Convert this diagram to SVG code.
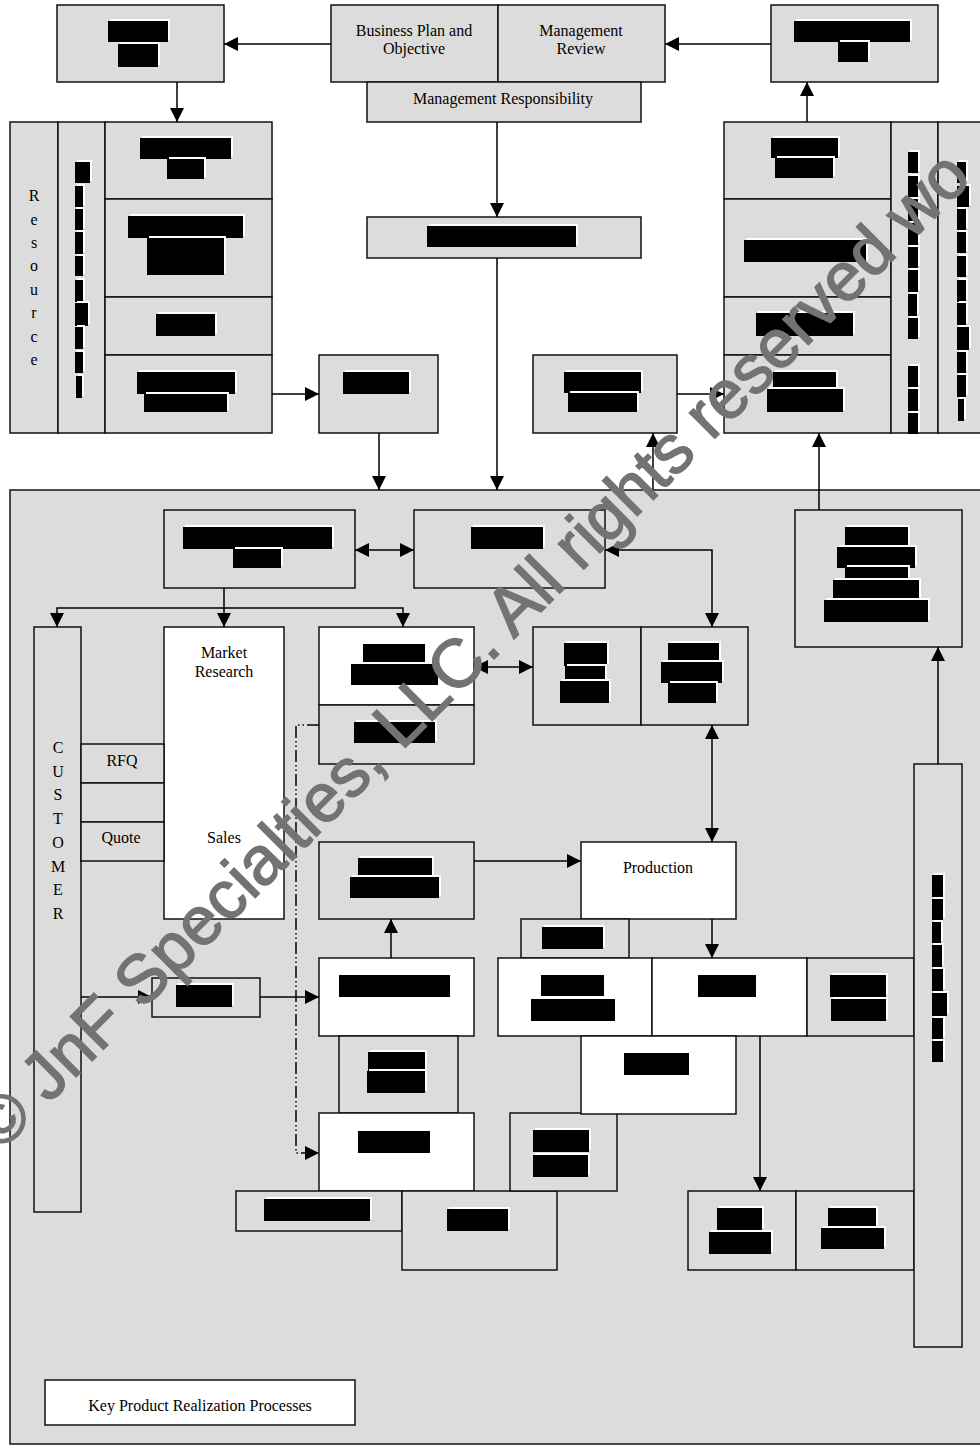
<svg xmlns="http://www.w3.org/2000/svg" width="980" height="1445" viewBox="0 0 980 1445">
<defs>
<style>
.g{fill:#dcdcdc;stroke:#111;stroke-width:1.5}
.w{fill:#fff;stroke:#111;stroke-width:1.5}
.t{font-family:"Liberation Serif","Times New Roman",serif;font-size:16px;fill:#000;text-anchor:middle}
.c{stroke:#000;stroke-width:1.5;fill:none}
.red rect{fill:#000;filter:url(#halo)}
.ar{marker-end:url(#arr)}
.ab{marker-start:url(#arr);marker-end:url(#arr)}
</style>
<filter id="halo" filterUnits="userSpaceOnUse" x="0" y="0" width="1000" height="1445">
<feOffset in="SourceAlpha" dx="2" dy="-2" result="o"/>
<feFlood flood-color="#fff"/>
<feComposite in2="o" operator="in" result="h"/>
<feMerge><feMergeNode in="h"/><feMergeNode in="SourceGraphic"/></feMerge>
</filter>
<marker id="arr" viewBox="0 0 14 14" refX="14" refY="7" markerWidth="14" markerHeight="14" markerUnits="userSpaceOnUse" orient="auto-start-reverse">
<path d="M0,0 L14,7 L0,14 z" fill="#000"/>
</marker>
</defs>
<rect width="980" height="1445" fill="#fff"/>

<!-- big region -->
<g id="region">
<rect class="g" x="10" y="490" width="990" height="954"/>
</g>

<!-- top row -->
<g id="n-topleft">
<rect class="g" x="57" y="5" width="167" height="77"/>
<g class="red"><rect x="108" y="21" width="60" height="21"/><rect x="118" y="44" width="40" height="23"/></g>
</g>
<g id="n-bizplan">
<rect class="g" x="331" y="5" width="167" height="77"/>
<text class="t" x="414" y="36">Business Plan and</text>
<text class="t" x="414" y="54">Objective</text>
</g>
<g id="n-mgmtreview">
<rect class="g" x="498" y="5" width="167" height="77"/>
<text class="t" x="581" y="36">Management</text>
<text class="t" x="581" y="54">Review</text>
</g>
<g id="n-mgmtresp">
<rect class="g" x="367" y="82" width="274" height="40"/>
<text class="t" x="503" y="104">Management Responsibility</text>
</g>
<g id="n-topright">
<rect class="g" x="771" y="5" width="167" height="77"/>
<g class="red"><rect x="794" y="21" width="116" height="21"/><rect x="838" y="42" width="30" height="20"/></g>
</g>

<!-- left resource block -->
<g id="n-resource">
<rect class="g" x="10" y="122" width="48" height="311"/>
<rect class="g" x="58" y="122" width="47" height="311"/>
<rect class="g" x="105" y="122" width="167" height="77"/>
<rect class="g" x="105" y="199" width="167" height="98"/>
<rect class="g" x="105" y="297" width="167" height="58"/>
<rect class="g" x="105" y="355" width="167" height="78"/>
<text class="t" x="34" y="201">R</text>
<text class="t" x="34" y="224.5">e</text>
<text class="t" x="34" y="248">s</text>
<text class="t" x="34" y="271.4">o</text>
<text class="t" x="34" y="294.8">u</text>
<text class="t" x="34" y="318.3">r</text>
<text class="t" x="34" y="341.7">c</text>
<text class="t" x="34" y="365.2">e</text>
<g class="red">
<rect x="75" y="162" width="15" height="21"/><rect x="75" y="186" width="8" height="21"/><rect x="75" y="209" width="8" height="21"/><rect x="75" y="232" width="8" height="22"/><rect x="75" y="256" width="8" height="20"/><rect x="75" y="280" width="8" height="22"/><rect x="75" y="303" width="13" height="23"/><rect x="75" y="327" width="8" height="22"/><rect x="75" y="352" width="8" height="21"/><rect x="76" y="376" width="6" height="22"/>
<rect x="140" y="138" width="91" height="21"/><rect x="167" y="159" width="37" height="20"/>
<rect x="128" y="216" width="115" height="22"/><rect x="147" y="238" width="77" height="37"/>
<rect x="156" y="314" width="59" height="22"/>
<rect x="137" y="372" width="98" height="22"/><rect x="144" y="394" width="83" height="18"/>
</g>
</g>
<g id="n-b">
<rect class="g" x="319" y="355" width="119" height="78"/>
<g class="red"><rect x="343" y="372" width="66" height="22"/></g>
</g>
<g id="n-c">
<rect class="g" x="367" y="217" width="274" height="41"/>
<g class="red"><rect x="427" y="226" width="149" height="21"/></g>
</g>
<g id="n-d">
<rect class="g" x="533" y="355" width="144" height="78"/>
<g class="red"><rect x="564" y="372" width="77" height="21"/><rect x="568" y="393" width="69" height="19"/></g>
</g>

<!-- right big block -->
<g id="n-rightblock">
<rect class="g" x="724" y="122" width="167" height="77"/>
<rect class="g" x="724" y="199" width="167" height="98"/>
<rect class="g" x="724" y="297" width="167" height="58"/>
<rect class="g" x="724" y="355" width="167" height="78"/>
<rect class="g" x="891" y="122" width="47" height="311"/>
<rect class="g" x="938" y="122" width="60" height="311"/>
<g class="red">
<rect x="771" y="138" width="67" height="20"/><rect x="775" y="158" width="58" height="20"/>
<rect x="744" y="240" width="122" height="22"/>
<rect x="756" y="313" width="97" height="23"/>
<rect x="773" y="372" width="63" height="17"/><rect x="767" y="389" width="76" height="23"/>
<rect x="908" y="152" width="10" height="21"/><rect x="908" y="176" width="10" height="21"/><rect x="908" y="199" width="10" height="22"/><rect x="908" y="223" width="10" height="22"/><rect x="908" y="247" width="10" height="21"/><rect x="908" y="270" width="10" height="22"/><rect x="908" y="294" width="9" height="22"/><rect x="908" y="318" width="10" height="21"/><rect x="908" y="366" width="10" height="21"/><rect x="908" y="389" width="10" height="22"/><rect x="908" y="413" width="10" height="21"/>
<rect x="957" y="162" width="9" height="21"/><rect x="957" y="186" width="12" height="21"/><rect x="957" y="209" width="9" height="21"/><rect x="957" y="232" width="9" height="21"/><rect x="957" y="256" width="9" height="21"/><rect x="957" y="280" width="9" height="22"/><rect x="957" y="303" width="9" height="22"/><rect x="957" y="327" width="12" height="23"/><rect x="957" y="352" width="9" height="21"/><rect x="957" y="375" width="9" height="22"/><rect x="958" y="399" width="6" height="22"/>
</g>
</g>

<!-- inside region -->
<g id="n-f">
<rect class="g" x="164" y="510" width="191" height="78"/>
<g class="red"><rect x="183" y="527" width="149" height="22"/><rect x="233" y="549" width="48" height="19"/></g>
</g>
<g id="n-g">
<rect class="g" x="414" y="510" width="191" height="78"/>
<g class="red"><rect x="471" y="527" width="72" height="22"/></g>
</g>
<g id="n-e">
<rect class="g" x="795" y="510" width="167" height="137"/>
<g class="red"><rect x="845" y="527" width="63" height="21"/><rect x="837" y="547" width="78" height="21"/><rect x="845" y="567" width="63" height="13"/><rect x="833" y="580" width="86" height="20"/><rect x="824" y="600" width="104" height="22"/></g>
</g>
<g id="n-h">
<rect class="g" x="533" y="627" width="108" height="98"/>
<rect class="g" x="641" y="627" width="107" height="98"/>
<g class="red"><rect x="564" y="643" width="43" height="23"/><rect x="565" y="666" width="40" height="15"/><rect x="560" y="681" width="49" height="22"/>
<rect x="668" y="643" width="51" height="19"/><rect x="661" y="662" width="61" height="21"/><rect x="668" y="683" width="48" height="20"/></g>
</g>
<g id="n-i">
<rect class="w" x="319" y="627" width="155" height="78"/>
<rect class="g" x="319" y="705" width="155" height="59"/>
<g class="red"><rect x="363" y="644" width="62" height="20"/><rect x="351" y="664" width="87" height="21"/><rect x="354" y="722" width="81" height="21"/></g>
</g>
<g id="n-customer">
<rect class="g" x="34" y="627" width="47" height="585"/>
<text class="t" x="58" y="753">C</text>
<text class="t" x="58" y="776.7">U</text>
<text class="t" x="58" y="800.4">S</text>
<text class="t" x="58" y="824">T</text>
<text class="t" x="58" y="847.8">O</text>
<text class="t" x="58" y="871.5">M</text>
<text class="t" x="58" y="895.2">E</text>
<text class="t" x="58" y="919">R</text>
</g>
<g id="n-sales">
<rect class="w" x="164" y="627" width="120" height="292"/>
<text class="t" x="224" y="658">Market</text>
<text class="t" x="224" y="677">Research</text>
<text class="t" x="224" y="843">Sales</text>
</g>
<g id="n-rfq">
<rect class="g" x="81" y="744" width="83" height="39"/>
<text class="t" x="122" y="766">RFQ</text>
</g>
<g id="n-blank">
<rect class="g" x="81" y="783" width="83" height="39"/>
</g>
<g id="n-quote">
<rect class="g" x="81" y="822" width="83" height="39"/>
<text class="t" x="121" y="843">Quote</text>
</g>
<g id="n-j">
<rect class="g" x="319" y="842" width="155" height="77"/>
<g class="red"><rect x="358" y="858" width="74" height="19"/><rect x="350" y="877" width="89" height="21"/></g>
</g>
<g id="n-production">
<rect class="w" x="581" y="842" width="155" height="77"/>
<text class="t" x="658" y="873">Production</text>
</g>
<g id="n-l">
<rect class="w" x="319" y="958" width="155" height="78"/>
<g class="red"><rect x="339" y="975" width="111" height="22"/></g>
</g>
<g id="n-m">
<rect class="g" x="152" y="978" width="108" height="39"/>
<g class="red"><rect x="176" y="985" width="56" height="22"/></g>
</g>
<g id="n-belowl">
<rect class="g" x="339" y="1036" width="119" height="77"/>
<g class="red"><rect x="368" y="1052" width="57" height="19"/><rect x="367" y="1071" width="58" height="22"/></g>
</g>
<g id="n-n">
<rect class="w" x="319" y="1113" width="155" height="78"/>
<g class="red"><rect x="358" y="1131" width="72" height="22"/></g>
</g>
<g id="n-o">
<rect class="g" x="236" y="1191" width="166" height="40"/>
<g class="red"><rect x="264" y="1199" width="106" height="22"/></g>
</g>
<g id="n-p">
<rect class="g" x="402" y="1191" width="155" height="79"/>
<g class="red"><rect x="447" y="1209" width="61" height="22"/></g>
</g>
<g id="n-q">
<rect class="g" x="510" y="1113" width="107" height="78"/>
<g class="red"><rect x="533" y="1130" width="56" height="22"/><rect x="533" y="1155" width="55" height="22"/></g>
</g>
<g id="n-aboveR1">
<rect class="g" x="521" y="919" width="108" height="39"/>
<g class="red"><rect x="542" y="927" width="61" height="22"/></g>
</g>
<g id="n-r1">
<rect class="w" x="498" y="958" width="154" height="78"/>
<g class="red"><rect x="541" y="975" width="63" height="21"/><rect x="531" y="999" width="84" height="22"/></g>
</g>
<g id="n-r2">
<rect class="w" x="652" y="958" width="155" height="78"/>
<g class="red"><rect x="698" y="975" width="58" height="22"/></g>
</g>
<g id="n-r3">
<rect class="g" x="807" y="958" width="107" height="78"/>
<g class="red"><rect x="830" y="975" width="56" height="22"/><rect x="831" y="999" width="55" height="22"/></g>
</g>
<g id="n-s">
<rect class="w" x="581" y="1036" width="155" height="78"/>
<g class="red"><rect x="624" y="1053" width="65" height="22"/></g>
</g>
<g id="n-t">
<rect class="g" x="688" y="1191" width="108" height="79"/>
<rect class="g" x="796" y="1191" width="118" height="79"/>
<g class="red"><rect x="717" y="1208" width="45" height="22"/><rect x="709" y="1232" width="62" height="22"/><rect x="828" y="1208" width="48" height="20"/><rect x="821" y="1228" width="63" height="21"/></g>
</g>
<g id="n-k">
<rect class="g" x="914" y="764" width="48" height="583"/>
<g class="red"><rect x="932" y="875" width="11" height="22"/><rect x="932" y="899" width="11" height="21"/><rect x="932" y="922" width="9" height="21"/><rect x="932" y="945" width="10" height="22"/><rect x="932" y="969" width="11" height="22"/><rect x="932" y="993" width="15" height="23"/><rect x="932" y="1018" width="11" height="21"/><rect x="932" y="1041" width="11" height="21"/></g>
</g>
<g id="n-key">
<rect class="w" x="45" y="1380" width="310" height="45"/>
<text class="t" x="200" y="1411">Key Product Realization Processes</text>
</g>

<!-- connectors -->
<g id="connectors">
<path class="c ar" d="M331,44 H224"/>
<path class="c ar" d="M771,44 H665"/>
<path class="c ar" d="M177,82 V122"/>
<path class="c ar" d="M807,122 V82"/>
<path class="c ar" d="M497,122 V217"/>
<path class="c ar" d="M497,258 V490"/>
<path class="c ar" d="M272,394 H319"/>
<path class="c ar" d="M379,433 V490"/>
<path class="c ar" d="M677,394 H724"/>
<path class="c ar" d="M653,490 V433"/>
<path class="c ar" d="M819,510 V433"/>
<path class="c ab" d="M355,550 H414"/>
<path class="c ab" d="M605,550 H712 V627"/>
<path class="c ar" d="M224,588 V627"/>
<path class="c ab" d="M57,627 V608 H403 V627"/>
<path class="c ab" d="M474,667 H533"/>
<path class="c ab" d="M712,725 V842"/>
<path class="c ar" d="M474,861 H581"/>
<path class="c ar" d="M712,919 V958"/>
<path class="c ar" d="M391,958 V919"/>
<path class="c ar" d="M81,997 H152"/>
<path class="c ar" d="M260,997 H319"/>
<path class="c ar" d="M319,725 H296 V1153 H319" stroke-dasharray="12 3 1.5 3 1.5 3"/>
<path class="c ar" d="M760,1036 V1191"/>
<path class="c ar" d="M938,764 V647"/>
</g>

<g id="watermark">
<text x="0" y="0" transform="translate(0,1153) rotate(-45)" font-family="'Liberation Sans',Arial,sans-serif" font-size="68" fill="#737373" stroke="#737373" stroke-width="1.5">© JnF Specialties, LLC. All rights reserved wo</text>
</g>
</svg>
